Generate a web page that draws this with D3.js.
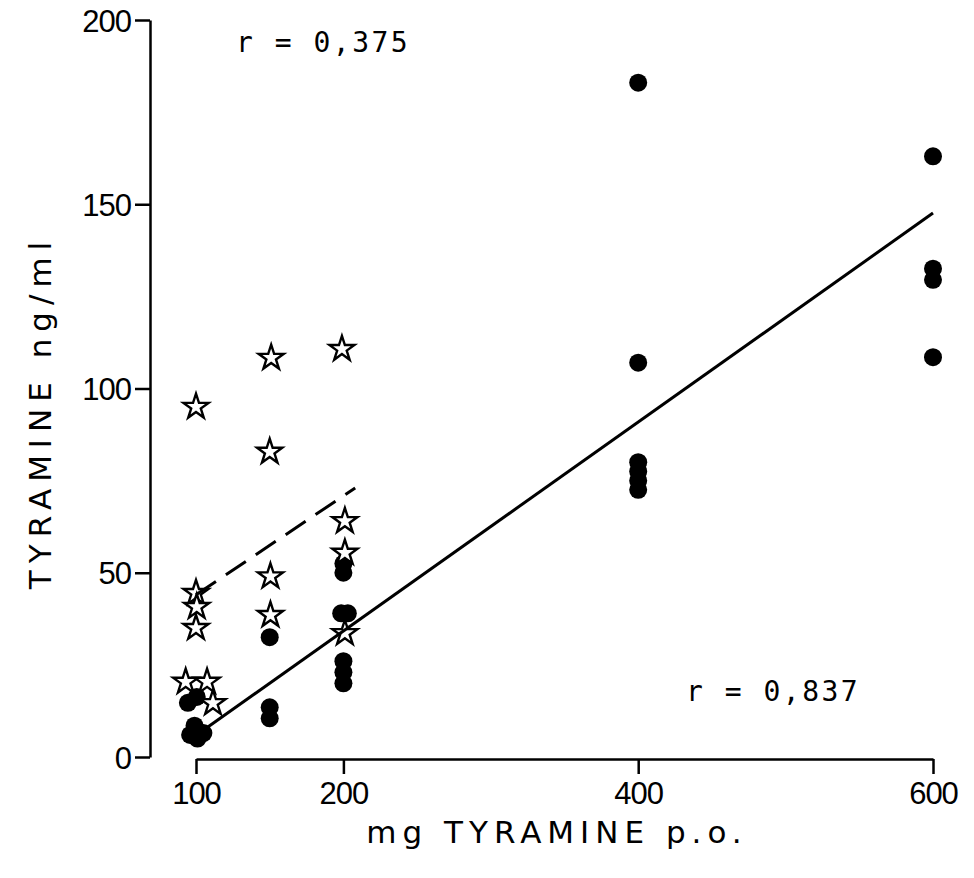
<!DOCTYPE html>
<meta charset="utf-8">
<script src="https://d3js.org/d3.v7.min.js"></script>
<style>
  body { margin: 0; background: #fff; }
</style>
<div id="chart"></div>
<script>
// dose (mg p.o.) / plasma tyramine (ng/ml)
var dotPoints = [
  [600, 163], [600, 132.5], [600, 129.5], [600, 108.5],
  [400, 183], [400, 107], [400, 80], [400, 77.5], [400, 75], [400, 72.5],
  [200, 52.5], [200, 50], [198.5, 39], [203, 39], [200, 26], [200, 23], [200, 20],
  [150, 32.5], [150, 13.5], [150, 10.5],
  [94.5, 14.7], [100.5, 16.3], [99, 8.5], [96, 6], [105, 6.5], [101, 5]
];
var starPoints = [
  [100, 95], [100, 44.5], [100.5, 40.7], [100, 35], [93, 20.4], [107.5, 20.4], [111.5, 14.6],
  [151, 108.3], [150, 82.8], [150.5, 49], [150.5, 38.5],
  [199, 110.7], [201, 64], [201, 55.4], [201, 33.6]
];
var solidLine = [[103, 6.7], [600, 147.6]];
var dashedLine = [[100, 44], [208, 73]];
var xTicks = [100, 200, 400, 600];
var yTicks = [0, 50, 100, 150, 200];
var rLabels = ["r = 0,375", "r = 0,837"];

var width = 974, height = 878;

var svg = d3.select("#chart")
  .append("svg")
    .attr("width", width)
    .attr("height", height)
    .style("background", "#fff");

var x = d3.scaleLinear().domain([100, 600]).range([196, 933]);
var y = d3.scaleLinear().domain([0, 200]).range([757, 20]);

var tickFont = "'Liberation Sans', Arial, sans-serif";

// Y axis
var yAxis = svg.append("g")
    .attr("transform", "translate(150,0)")
    .call(d3.axisLeft(y).tickValues(yTicks).tickSize(15).tickSizeOuter(0).tickPadding(4));
// X axis
var xAxis = svg.append("g")
    .attr("transform", "translate(0,759)")
    .call(d3.axisBottom(x).tickValues(xTicks).tickSize(15).tickSizeOuter(0).tickPadding(8));

[yAxis, xAxis].forEach(function(a) {
  a.selectAll("path, line").attr("stroke", "#000").attr("stroke-width", 2.5);
  a.selectAll("text")
    .attr("fill", "#000")
    .style("font-family", tickFont)
    .style("font-size", "31px")
    .style("letter-spacing", "-1px");
});
yAxis.selectAll("text").attr("dy", "0.36em");

// axis titles
svg.append("text")
    .attr("x", 557)
    .attr("y", 843)
    .attr("text-anchor", "middle")
    .style("font-family", "'DejaVu Sans', sans-serif")
    .style("font-size", "31px")
    .style("letter-spacing", "6px")
    .text("mg TYRAMINE p.o.");

svg.append("text")
    .attr("transform", "translate(51,412) rotate(-90)")
    .attr("text-anchor", "middle")
    .style("font-family", "'DejaVu Sans', sans-serif")
    .style("font-size", "31px")
    .style("letter-spacing", "7px")
    .text("TYRAMINE ng/ml");

// correlation labels
svg.append("text")
    .attr("x", 236).attr("y", 52)
    .style("font-family", "'DejaVu Sans Mono', monospace")
    .style("font-size", "28px")
    .style("letter-spacing", "2.5px")
    .text(rLabels[0]);
svg.append("text")
    .attr("x", 686).attr("y", 701)
    .style("font-family", "'DejaVu Sans Mono', monospace")
    .style("font-size", "28px")
    .style("letter-spacing", "2.5px")
    .text(rLabels[1]);

// filled dots
svg.append("g")
  .selectAll("circle")
  .data(dotPoints)
  .enter()
  .append("circle")
    .attr("cx", function(d) { return x(d[0]); })
    .attr("cy", function(d) { return y(d[1]); })
    .attr("r", 9)
    .attr("fill", "#000");

// open stars
svg.append("g")
  .selectAll("path")
  .data(starPoints)
  .enter()
  .append("path")
    .attr("d", d3.symbol().type(d3.symbolStar).size(195))
    .attr("transform", function(d) { return "translate(" + x(d[0]) + "," + y(d[1]) + ")"; })
    .attr("fill", "#fff")
    .attr("stroke", "#000")
    .attr("stroke-width", 2.4)
    .attr("stroke-linejoin", "miter");

// regression lines
var line = d3.line()
  .x(function(d) { return x(d[0]); })
  .y(function(d) { return y(d[1]); });

svg.append("path")
    .datum(solidLine)
    .attr("d", line)
    .attr("fill", "none")
    .attr("stroke", "#000")
    .attr("stroke-width", 3);

svg.append("path")
    .datum(dashedLine)
    .attr("d", line)
    .attr("fill", "none")
    .attr("stroke", "#000")
    .attr("stroke-width", 3)
    .attr("stroke-dasharray", "24,12");
</script>
